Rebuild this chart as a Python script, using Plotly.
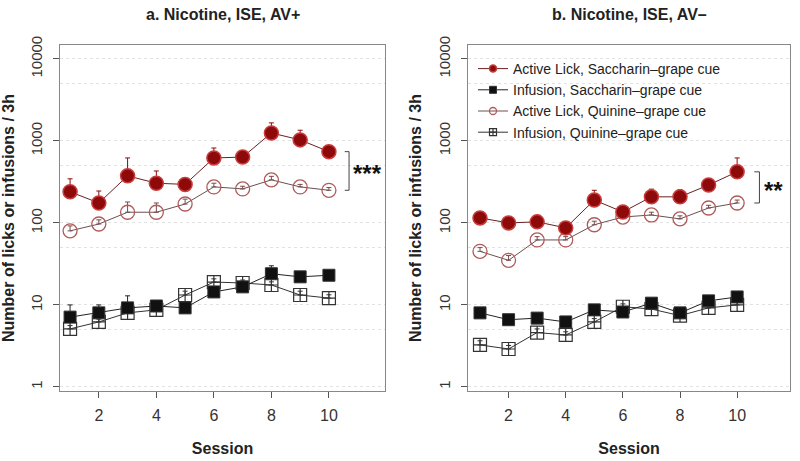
import math
import plotly.graph_objects as go
from plotly.subplots import make_subplots

sessions = [1, 2, 3, 4, 5, 6, 7, 8, 9, 10]

# Panel a: Nicotine, ISE, AV+
a_lick_sacc = [240, 175, 375, 305, 295, 620, 635, 1250, 1030, 740]
a_lick_sacc_err = [105, 70, 245, 125, 40, 200, 110, 410, 320, 90]
a_inf_sacc = [7.1, 8.0, 9.2, 9.7, 9.2, 14.4, 16.6, 24, 22, 23]
a_inf_sacc_err = [2.9, 2.0, 3.7, 1.0, 0.6, 1.5, 2.0, 6, 2, 1]
a_lick_quin = [80, 97, 135, 135, 170, 275, 260, 335, 275, 250]
a_lick_quin_err = [12, 12, 45, 40, 25, 30, 20, 35, 20, 20]
a_inf_quin = [5.1, 6.2, 8.0, 8.7, 13.2, 19, 18.5, 17.5, 13.2, 12.1]
a_inf_quin_err = [0.5, 0.5, 0.8, 0.8, 1.5, 1.8, 1.6, 1.6, 1.5, 1.2]

# Panel b: Nicotine, ISE, AV-
b_lick_sacc = [115, 100, 103, 87, 190, 136, 208, 208, 290, 420]
b_lick_sacc_err = [15, 10, 12, 8, 60, 20, 50, 45, 45, 200]
b_inf_sacc = [8.0, 6.6, 6.9, 6.2, 8.7, 8.2, 10.5, 8.0, 11.2, 12.5]
b_inf_sacc_err = [0.5, 0.5, 0.5, 0.5, 1.2, 0.8, 0.8, 0.8, 0.8, 1.0]
b_lick_quin = [45, 35, 62, 62, 95, 118, 125, 112, 152, 175]
b_lick_quin_err = [5, 5, 6, 6, 10, 12, 10, 10, 12, 15]
b_inf_quin = [3.25, 2.9, 4.6, 4.3, 6.2, 9.5, 8.9, 7.4, 9.2, 10.0]
b_inf_quin_err = [0.4, 0.3, 0.5, 0.4, 0.6, 0.8, 0.6, 0.6, 0.6, 0.8]

names = ["Active Lick, Saccharin\u2013grape cue", "Infusion, Saccharin\u2013grape cue",
         "Active Lick, Quinine\u2013grape cue", "Infusion, Quinine\u2013grape cue"]
titles = ["a. Nicotine, ISE, AV+", "b. Nicotine, ISE, AV\u2013"]
y_title = "Number of licks or infusions / 3h"
x_title = "Session"
y_ticks = [1, 10, 100, 1000, 10000]
y_minor = [5, 50, 500, 5000]
x_ticks = [2, 4, 6, 8, 10]
sig_labels = ["***", "**"]

DARKRED = "#8e0a0a"
HALO = "#c83c3c"
PINK = "#b05a5a"
FONT = "Liberation Sans"

fig = make_subplots(rows=1, cols=2)

panels = [
    (a_lick_sacc, a_lick_sacc_err, a_inf_sacc, a_inf_sacc_err, a_lick_quin, a_lick_quin_err, a_inf_quin, a_inf_quin_err),
    (b_lick_sacc, b_lick_sacc_err, b_inf_sacc, b_inf_sacc_err, b_lick_quin, b_lick_quin_err, b_inf_quin, b_inf_quin_err),
]

def styles_for(p):
    ls, lse, isa, ise, lq, lqe, iq, iqe = p
    return [
        (ls, lse, names[0], dict(symbol="circle", color=DARKRED, line=dict(color=HALO, width=1.5)), 14, "#6a2020", DARKRED),
        (isa, ise, names[1], dict(symbol="square", color="#111111", line=dict(color="#333333", width=1)), 12, "#222222", "#222222"),
        (lq, lqe, names[2], dict(symbol="circle-open", color=PINK, line=dict(color=PINK, width=1.3)), 14, "#6a5050", "#7a4a4a"),
        (iq, iqe, names[3], dict(symbol="square-cross-open", color="#333333", line=dict(color="#333333", width=1.2)), 13, "#333333", "#333333"),
    ]

for ci, p in enumerate(panels, start=1):
    st = styles_for(p)
    for idx in [3, 1, 2, 0]:
        vals, errs, nm, mk, sz, lc, ec = st[idx]
        fig.add_trace(go.Scatter(
            x=sessions, y=vals, mode="lines+markers", name=nm,
            line=dict(color=lc, width=1), marker=dict(mk, size=sz),
            error_y=dict(type="data", symmetric=False, array=errs, arrayminus=[0] * len(errs),
                         color=ec, thickness=1, width=2.5),
            showlegend=False,
        ), row=1, col=ci)

# legend-only entries (small symbols, as in the original key)
for idx, (vals, errs, nm, mk, sz, lc, ec) in enumerate(styles_for(panels[1])):
    fig.add_trace(go.Scatter(
        x=[None], y=[None], mode="lines+markers", name=nm,
        line=dict(color=lc, width=1), marker=dict(mk, size=7),
        showlegend=True, legendrank=idx + 1,
    ), row=1, col=2)

brackets = [
    (1, 10.55, 10.7, a_lick_sacc[-1], a_lick_quin[-1], sig_labels[0]),
    (2, 10.6, 10.78, b_lick_sacc[-1], b_lick_quin[-1], sig_labels[1]),
]
for ci, x0, x1, ytop, ybot, lab in brackets:
    xr = "x" if ci == 1 else "x2"
    yr = "y" if ci == 1 else "y2"
    fig.add_trace(go.Scatter(
        x=[x0, x1, x1, x0], y=[ytop, ytop, ybot, ybot], mode="lines",
        line=dict(color="#444444", width=1), showlegend=False, hoverinfo="skip",
        xaxis=xr, yaxis=yr))
    gm = (ytop * ybot) ** 0.5
    fig.add_annotation(x=x1 + 0.08, y=math.log10(gm), xref=xr, yref=yr, yshift=-3,
                       text="<b>" + lab + "</b>", showarrow=False, xanchor="left", yanchor="middle",
                       font=dict(size=24, color="#111111", family=FONT))

doms_x = [[60 / 800, 385 / 800], [468 / 800, 790 / 800]]
ydom = [1 - 391 / 461, 1 - 45 / 461]
for ci in (1, 2):
    fig.update_xaxes(row=1, col=ci, domain=doms_x[ci - 1],
                     range=[0.65 if ci == 1 else 0.58, 11.95 if ci == 1 else 11.85],
                     tickvals=x_ticks, ticks="outside", ticklen=6, tickcolor="#555555",
                     ticklabelstandoff=4,
                     showline=True, mirror=True, linecolor="#888888", linewidth=1,
                     showgrid=False, zeroline=False, automargin=False,
                     tickfont=dict(size=16, color="#333333", family=FONT),
                     title=dict(text="<b>" + x_title + "</b>", font=dict(size=16, color="#222222", family=FONT), standoff=19))
    fig.update_yaxes(row=1, col=ci, type="log", domain=ydom, range=[-0.05, 4.17],
                     tickvals=y_ticks, ticktext=[str(v) for v in y_ticks], tickangle=-90,
                     ticks="outside", ticklen=6, tickcolor="#555555", ticklabelstandoff=5,
                     showline=True, mirror=True, linecolor="#888888", linewidth=1,
                     showgrid=True, gridcolor="#e2e2e2", gridwidth=1, griddash="dot",
                     minor=dict(tickvals=y_minor, showgrid=True, gridcolor="#e2e2e2", griddash="dot", ticks=""),
                     zeroline=False, automargin=False,
                     tickfont=dict(size=15, color="#333333", family=FONT),
                     title=dict(text="<b>" + y_title + "</b>", font=dict(size=16, color="#222222", family=FONT), standoff=10))

for i, t in enumerate(titles):
    fig.add_annotation(x=sum(doms_x[i]) / 2, y=1 - 14 / 461, xref="paper", yref="paper",
                       text="<b>" + t + "</b>", showarrow=False, xanchor="center", yanchor="middle",
                       font=dict(size=16, color="#222222", family=FONT))

fig.update_layout(
    width=800, height=461, margin=dict(l=0, r=0, t=0, b=0, autoexpand=False),
    plot_bgcolor="white", paper_bgcolor="white",
    showlegend=True,
    legend=dict(x=473 / 800, y=1 - 53 / 461, xanchor="left", yanchor="top",
                bgcolor="rgba(0,0,0,0)", font=dict(size=14, color="#222222", family=FONT),
                tracegroupgap=0, itemwidth=30, traceorder="normal"),
)

fig.write_html("out.html", config={"displayModeBar": False},
               post_script="document.body.style.margin='0';document.body.style.padding='0';")
